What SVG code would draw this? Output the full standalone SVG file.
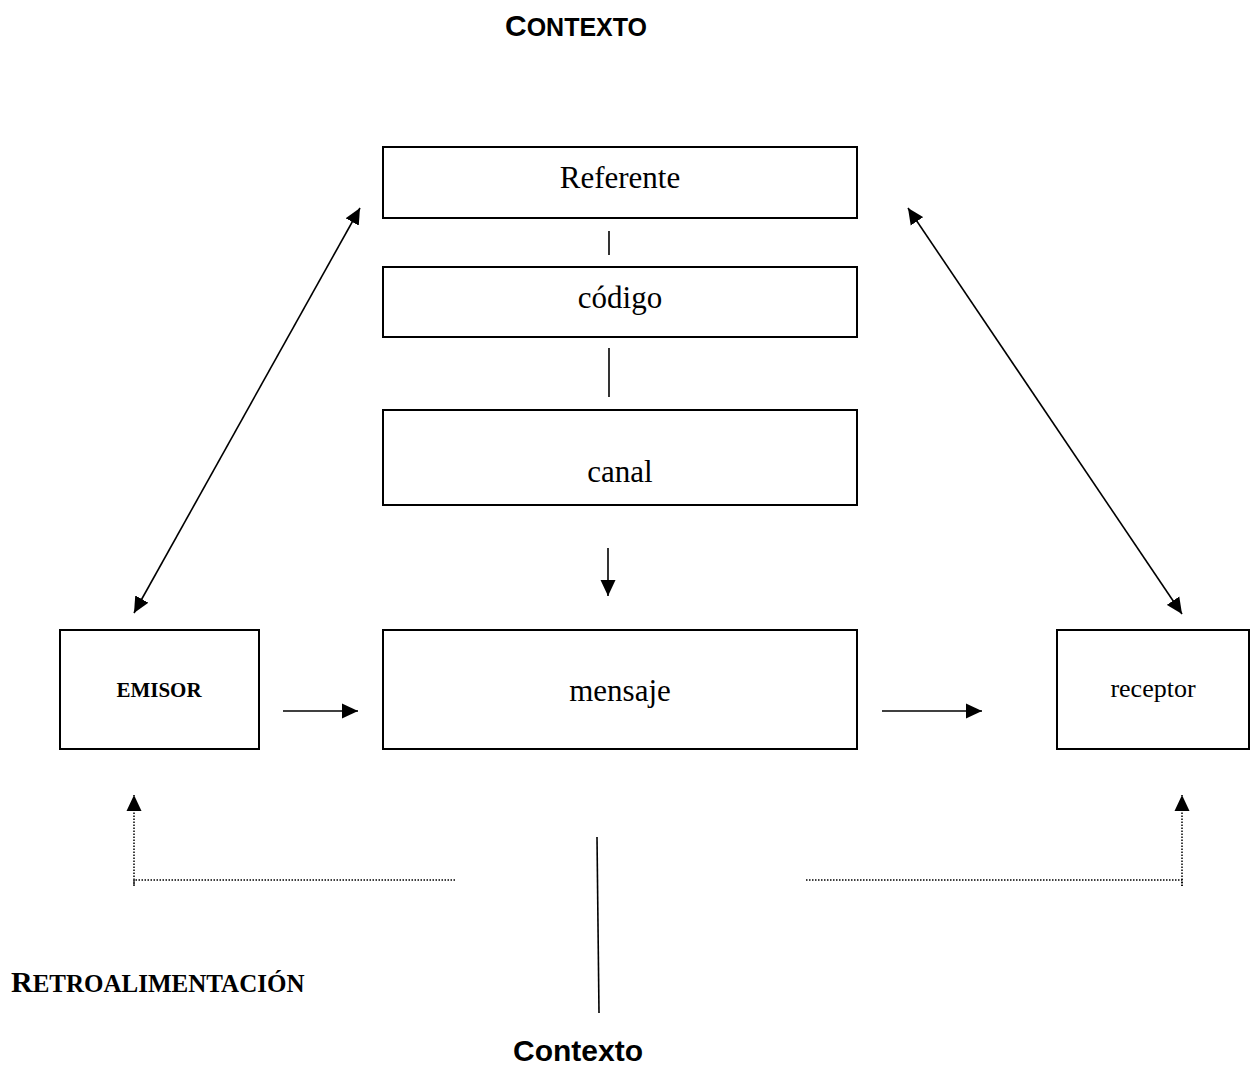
<svg xmlns="http://www.w3.org/2000/svg" width="1259" height="1070" viewBox="0 0 1259 1070">
<style>
.box{fill:#fff;stroke:#000;stroke-width:2}
.t{font-family:"Liberation Serif","Times New Roman",serif;fill:#000;text-anchor:middle}
.a{font-family:"Liberation Sans",Arial,sans-serif;font-weight:bold;fill:#000}
.ln{stroke:#000;stroke-width:1.6;fill:none}
.dot{stroke:#000;stroke-width:1.5;fill:none;stroke-dasharray:1.5 1.5}
</style>
<defs>
<marker id="ah" viewBox="0 0 16 16" refX="16" refY="8" markerWidth="16" markerHeight="16" markerUnits="userSpaceOnUse" orient="auto-start-reverse">
<path d="M0,0.5 L16,8 L0,15.5 z" fill="#000"/>
</marker>
</defs>
<rect width="1259" height="1070" fill="#fff"/>
<g id="title-top">
<text class="a" x="505" y="36"><tspan font-size="30">C</tspan><tspan font-size="25">ONTEXTO</tspan></text>
</g>
<g id="referente">
<rect class="box" x="383" y="147" width="474" height="71"/>
<text class="t" x="620" y="188" font-size="31">Referente</text>
</g>
<g id="codigo">
<rect class="box" x="383" y="267" width="474" height="70"/>
<text class="t" x="620" y="308" font-size="31">código</text>
</g>
<g id="canal">
<rect class="box" x="383" y="410" width="474" height="95"/>
<text class="t" x="620" y="482" font-size="31">canal</text>
</g>
<g id="emisor">
<rect class="box" x="60" y="630" width="199" height="119"/>
<text class="t" x="159" y="697" font-size="21" font-weight="bold">EMISOR</text>
</g>
<g id="mensaje">
<rect class="box" x="383" y="630" width="474" height="119"/>
<text class="t" x="620" y="701" font-size="31">mensaje</text>
</g>
<g id="receptor">
<rect class="box" x="1057" y="630" width="192" height="119"/>
<text class="t" x="1153" y="697" font-size="26">receptor</text>
</g>
<g id="connectors">
<line class="ln" x1="609" y1="231" x2="609" y2="255"/>
<line class="ln" x1="609" y1="348" x2="609" y2="397"/>
<line class="ln" x1="608" y1="548" x2="608" y2="596" marker-end="url(#ah)"/>
<line class="ln" x1="283" y1="711" x2="358" y2="711" marker-end="url(#ah)"/>
<line class="ln" x1="882" y1="711" x2="982" y2="711" marker-end="url(#ah)"/>
<line class="ln" x1="134" y1="613" x2="360" y2="208" marker-start="url(#ah)" marker-end="url(#ah)"/>
<line class="ln" x1="1182" y1="614" x2="908" y2="208" marker-start="url(#ah)" marker-end="url(#ah)"/>
<line class="ln" x1="597" y1="837" x2="599" y2="1013"/>
<polyline class="dot" points="455,880 134,880 134,886"/>
<line class="dot" x1="134" y1="886" x2="134" y2="795" marker-end="url(#ah)"/>
<polyline class="dot" points="806,880 1182,880 1182,886"/>
<line class="dot" x1="1182" y1="886" x2="1182" y2="795" marker-end="url(#ah)"/>
</g>
<g id="label-retro">
<text x="11" y="992" font-family="'Liberation Serif','Times New Roman',serif" font-weight="bold" fill="#000"><tspan font-size="30">R</tspan><tspan font-size="25">ETROALIMENTACIÓN</tspan></text>
</g>
<g id="label-contexto">
<text class="a" x="578" y="1061" font-size="30" text-anchor="middle">Contexto</text>
</g>
</svg>
